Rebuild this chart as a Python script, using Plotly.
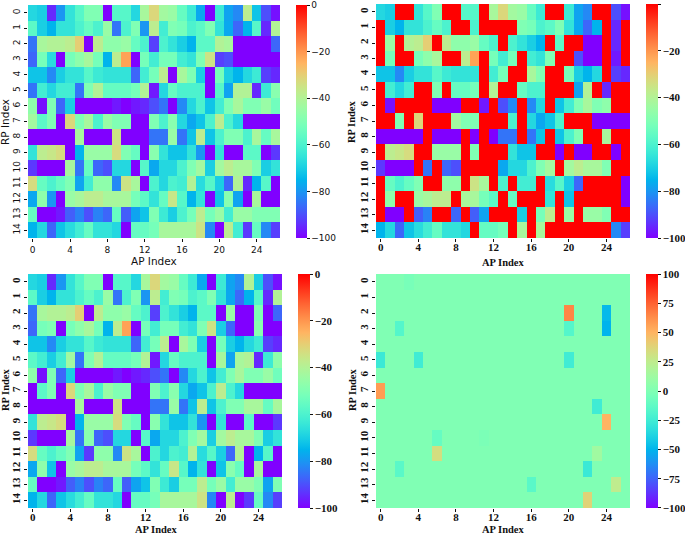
import math
import plotly.graph_objects as go

rp_labels = list(range(15))
ap_labels = list(range(27))
x_ticks = [0, 4, 8, 12, 16, 20, 24]

panel_a = [
 [-68,-70,-95,-80,-65,-58,-50,-50,-100,-58,-58,-68,-42,-32,-43,-45,-55,-63,-77,-100,-63,-78,-82,-38,-72,-90,-98],
 [-57,-70,-75,-65,-65,-60,-55,-60,-45,-85,-60,-50,-80,-38,-62,-50,-52,-60,-57,-50,-65,-77,-87,-75,-58,-95,-40],
 [-85,-42,-40,-40,-38,-30,-100,-38,-47,-47,-45,-55,-60,-92,-60,-65,-70,-75,-57,-57,-40,-42,-100,-100,-100,-100,-87],
 [-87,-52,-67,-100,-52,-47,-42,-52,-75,-38,-22,-100,-52,-62,-52,-52,-62,-65,-50,-35,-92,-90,-100,-100,-100,-100,-100],
 [-72,-72,-82,-70,-65,-65,-58,-63,-65,-65,-65,-87,-62,-52,-38,-100,-42,-50,-70,-100,-52,-70,-75,-68,-63,-92,-95],
 [-85,-62,-68,-62,-62,-85,-50,-40,-55,-55,-55,-52,-40,-97,-68,-55,-60,-60,-60,-100,-58,-78,-40,-40,-95,-63,-48],
 [-47,-98,-50,-87,-70,-100,-100,-100,-100,-97,-100,-97,-95,-90,-85,-100,-82,-68,-60,-72,-62,-50,-42,-50,-50,-45,-53],
 [-43,-57,-50,-100,-32,-50,-42,-60,-45,-50,-50,-100,-100,-50,-60,-48,-68,-77,-72,-60,-38,-60,-68,-100,-100,-100,-100],
 [-100,-100,-100,-100,-100,-42,-100,-100,-100,-35,-100,-100,-100,-85,-85,-45,-85,-72,-38,-72,-60,-50,-50,-60,-42,-55,-42],
 [-65,-38,-36,-33,-100,-75,-45,-45,-45,-33,-50,-55,-100,-48,-65,-72,-72,-65,-80,-100,-65,-100,-100,-57,-57,-100,-93],
 [-93,-100,-100,-100,-42,-85,-55,-87,-90,-68,-68,-100,-58,-77,-68,-68,-60,-50,-43,-70,-43,-38,-42,-42,-50,-70,-65],
 [-33,-55,-60,-55,-50,-78,-62,-47,-47,-82,-35,-42,-100,-60,-68,-60,-62,-40,-67,-58,-70,-87,-40,-95,-75,-58,-100],
 [-77,-47,-80,-100,-45,-42,-38,-38,-42,-42,-42,-52,-57,-65,-55,-36,-58,-75,-65,-100,-72,-48,-78,-100,-42,-100,-100],
 [-55,-100,-100,-97,-88,-83,-90,-83,-87,-55,-88,-78,-72,-50,-63,-70,-60,-52,-38,-52,-45,-62,-45,-45,-50,-50,-50],
 [-75,-68,-87,-72,-67,-62,-55,-65,-65,-68,-100,-55,-55,-52,-42,-42,-42,-42,-35,-82,-100,-38,-62,-93,-55,-82,-92],
]

panel_b = [
 [-68,-70,0,0,-65,-58,-50,0,0,-58,-58,0,-42,-32,-43,-45,-55,-63,0,0,-63,-78,-82,0,0,-90,-98],
 [0,-70,-75,-65,-65,-60,-55,-60,0,0,-60,0,0,0,0,-50,-52,-60,-57,-50,-65,-77,-87,-75,0,-95,0],
 [0,-45,0,-40,-38,-30,0,-38,-47,-47,-45,-55,-60,0,-60,-65,-70,-75,0,-57,0,0,-100,-100,0,-95,0],
 [0,-52,0,0,-52,-47,-42,0,0,-38,-22,0,-52,-62,-52,0,-62,-65,-50,0,0,-90,-100,-100,0,-97,0],
 [-72,-72,-82,-70,-65,-65,-58,-63,-65,-65,-65,0,-62,-52,0,0,-42,-50,0,0,-52,-70,-75,-68,0,-92,-95],
 [0,-62,-68,-62,0,0,-50,0,-55,-55,-52,0,-40,0,0,-55,-60,-60,0,0,0,-78,-40,0,-95,0,0],
 [0,-98,0,0,0,0,-100,-100,-100,0,0,-97,0,-90,-82,0,-82,-68,0,-72,-62,-50,-42,-50,-47,0,0],
 [0,0,-50,0,-32,0,0,0,-43,-50,-50,0,0,0,-60,0,-68,-77,-72,-60,0,0,0,-100,-100,-100,-100],
 [-100,-100,-100,-100,-100,0,-100,-100,-100,0,-100,0,-100,-85,-85,0,-85,-72,0,-72,-60,-50,0,0,-42,0,0],
 [0,-38,-36,-33,0,0,-45,-45,-45,0,-50,0,0,0,-65,-72,-72,0,0,-100,0,-100,-100,0,0,-100,0],
 [-93,-100,-100,-100,0,-85,0,-87,-90,0,0,0,0,-77,-68,-68,-60,-50,-43,0,-43,-38,-42,-42,-50,0,0],
 [0,-55,-60,-55,-50,0,0,-47,-47,0,-35,-42,0,-60,0,-62,-62,0,-67,-58,-70,-87,0,0,0,0,-100],
 [0,-47,0,0,-45,-42,-38,-38,0,-42,-42,-52,-57,0,-55,0,0,0,-65,0,-72,0,0,0,0,0,-100],
 [0,-100,-100,0,-88,-83,0,0,-87,0,-88,-78,0,0,0,-70,0,-52,-38,0,-45,0,-45,-45,-50,0,0],
 [-75,-68,-87,-72,-67,-62,-55,-65,-65,-68,0,-55,-55,-52,0,-42,0,-42,0,0,0,0,0,0,0,-82,-92],
]

panel_c = [
 [-68,-70,-95,-80,-65,-58,-50,-50,-100,-58,-58,-68,-42,-32,-43,-45,-55,-63,-77,-100,-63,-78,-82,-40,-70,-90,-98],
 [-57,-70,-75,-65,-65,-60,-55,-60,-45,-85,-60,-50,-80,-38,-62,-50,-52,-60,-57,-50,-65,-77,-87,-75,-58,-95,-40],
 [-85,-42,-40,-40,-38,-30,-100,-38,-47,-47,-45,-55,-60,-92,-60,-65,-70,-75,-57,-57,-100,-45,-100,-100,-50,-100,-87],
 [-87,-52,-50,-100,-52,-47,-42,-52,-75,-38,-22,-100,-52,-62,-52,-52,-62,-65,-50,-35,-70,-87,-100,-100,-48,-100,-100],
 [-72,-72,-82,-70,-65,-65,-58,-63,-65,-65,-65,-87,-62,-52,-38,-100,-42,-50,-70,-100,-52,-70,-75,-68,-63,-92,-95],
 [-57,-62,-70,-62,-43,-85,-50,-40,-55,-55,-55,-52,-40,-97,-68,-55,-60,-60,-60,-100,-42,-78,-42,-40,-95,-63,-47],
 [-47,-98,-50,-87,-70,-100,-100,-100,-100,-97,-100,-97,-95,-90,-85,-100,-82,-68,-60,-72,-62,-50,-42,-50,-50,-45,-53],
 [-100,-57,-50,-100,-32,-50,-42,-60,-45,-50,-50,-100,-100,-50,-60,-48,-68,-77,-72,-60,-38,-60,-68,-100,-100,-100,-100],
 [-100,-100,-100,-100,-100,-42,-100,-100,-100,-35,-100,-100,-100,-85,-85,-45,-85,-72,-38,-72,-60,-50,-50,-42,-42,-55,-42],
 [-65,-38,-36,-33,-100,-75,-45,-45,-45,-33,-50,-55,-100,-48,-65,-72,-72,-65,-80,-100,-65,-100,-100,-57,-100,-100,-93],
 [-93,-100,-100,-100,-42,-85,-48,-87,-90,-68,-68,-100,-58,-77,-68,-68,-60,-50,-43,-70,-43,-38,-42,-42,-50,-70,-65],
 [-33,-55,-60,-55,-50,-78,-93,-47,-47,-82,-35,-42,-100,-60,-68,-60,-62,-40,-67,-58,-70,-87,-40,-100,-75,-58,-100],
 [-77,-47,-72,-100,-45,-42,-38,-38,-42,-42,-42,-52,-57,-65,-55,-36,-58,-75,-65,-100,-72,-48,-55,-100,-42,-100,-100],
 [-55,-100,-100,-97,-88,-83,-90,-83,-87,-55,-88,-78,-72,-50,-63,-70,-52,-52,-38,-52,-45,-62,-45,-45,-50,-78,-50],
 [-75,-68,-87,-72,-67,-62,-55,-65,-65,-68,-100,-55,-55,-52,-42,-42,-42,-42,-35,-82,-100,-38,-100,-93,-55,-82,-92],
]

panel_d = [
 [0,0,0,-3,0,0,0,0,0,0,0,0,0,0,0,0,0,0,0,0,0,0,0,0,0,0,0],
 [0,0,0,0,0,0,0,0,0,0,0,0,0,0,0,0,0,0,0,0,0,0,0,0,0,0,0],
 [0,0,0,0,0,0,0,0,0,0,0,0,0,0,0,0,0,0,0,0,65,0,0,0,-48,0,0],
 [0,0,-17,0,0,0,0,0,0,0,0,0,0,0,0,0,0,0,0,0,-17,0,0,0,-50,0,0],
 [0,0,0,0,0,0,0,0,0,0,0,0,0,0,0,0,0,0,0,0,0,0,0,0,0,0,0],
 [-27,0,0,0,-25,0,0,0,0,0,0,0,0,0,0,0,0,0,0,0,-25,0,0,0,0,0,0],
 [0,0,0,0,0,0,0,0,0,0,0,0,0,0,0,0,0,0,0,0,0,0,0,0,0,0,0],
 [58,0,0,0,0,0,0,0,0,0,0,0,0,0,0,0,0,0,0,0,0,0,0,0,0,0,0],
 [0,0,0,0,0,0,0,0,0,0,0,0,0,0,0,0,0,0,0,0,0,0,0,-25,0,0,0],
 [0,0,0,0,0,0,0,0,0,0,0,0,0,0,0,0,0,0,0,0,0,0,0,0,50,0,0],
 [0,0,0,0,0,0,-10,0,0,0,0,-2,0,0,0,0,0,0,0,0,0,0,0,0,0,0,0],
 [0,0,0,0,0,0,33,0,0,0,0,0,0,0,0,0,0,0,0,0,0,0,0,13,0,0,0],
 [0,0,-15,0,0,0,0,0,0,0,0,0,0,0,0,0,0,0,0,0,0,0,-27,0,0,0,0],
 [0,0,0,0,0,0,0,0,0,0,0,0,0,0,0,0,-15,0,0,0,0,0,0,0,0,25,0],
 [0,0,0,0,0,0,0,0,0,0,0,0,0,0,0,0,0,0,0,0,0,0,38,0,0,0,0],
]

cbar_ticks = [-0.01, -20, -40, -60, -80, -100]
cbar_text = ["0", "−20", "−40", "−60", "−80", "−100"]
diff_ticks = [99.99, 75, 50, 25, 0, -25, -50, -75, -99.99]
diff_text = ["100", "75", "50", "25", "0", "−25", "−50", "−75", "−100"]
x_title = "AP Index"
y_title = "RP Index"

W, H = 685, 535

def rainbow():
    stops = []
    for i in range(65):
        t = i / 64
        r = min(1, abs(2 * t - 0.5))
        g = math.sin(math.pi * t)
        b = math.cos(math.pi * t / 2)
        stops.append([t, f"rgb({r*255:.0f},{g*255:.0f},{b*255:.0f})"])
    return stops

SCALE = rainbow()
SANS = dict(family="DejaVu Sans", size=9, color="#111")
SERIF = dict(family="Liberation Serif", size=11, color="#111", weight="bold")

panels = [
    dict(z=panel_a, box=(28, 280, 5, 238), cb=(296, 238, 5), zr=(-100, 0), font=SANS,
         cbt=cbar_ticks, cbl=cbar_text, xs=10.5, thick=11, off=0, xt=(154, 261), yt=(5, 122)),
    dict(z=panel_b, box=(376, 630, 4, 238), cb=(646, 238, 4), zr=(-100, 0), font=SERIF,
         cbt=cbar_ticks, cbl=cbar_text, xs=10.5, thick=12, off=-4, xt=(503, 262), yt=(352, 122)),
    dict(z=panel_c, box=(28, 282, 274, 508), cb=(298, 508, 274), zr=(-100, 0), font=SERIF,
         cbt=cbar_ticks, cbl=cbar_text, xs=10.5, thick=12, off=-4, xt=(156, 529), yt=(5, 390)),
    dict(z=panel_d, box=(376, 630, 274, 508), cb=(646, 508, 274), zr=(-100, 100), font=SERIF,
         cbt=diff_ticks, cbl=diff_text, xs=10.5, thick=12, off=-4, xt=(503, 529), yt=(352, 390)),
]

fig = go.Figure()
notes = []
for i, p in enumerate(panels, start=1):
    x0, x1, y0, y1 = p["box"]
    cx, cb_bottom, cb_top = p["cb"]
    suffix = "" if i == 1 else str(i)
    f = p["font"]
    fig.add_trace(go.Heatmap(
        z=p["z"], x=ap_labels, y=rp_labels,
        xaxis=f"x{suffix}", yaxis=f"y{suffix}",
        colorscale=SCALE, zmin=p["zr"][0], zmax=p["zr"][1],
        xgap=0, ygap=0,
        colorbar=dict(
            x=cx / W, xanchor="left", xref="paper",
            y=1 - cb_bottom / H, yanchor="bottom", yref="paper",
            len=(cb_bottom - cb_top) / H, lenmode="fraction",
            thickness=p["thick"], thicknessmode="pixels",
            outlinewidth=0, xpad=0, ypad=0,
            tickmode="array", tickvals=p["cbt"], ticktext=p["cbl"],
            ticks="outside", ticklen=3, tickwidth=1, tickcolor="#111",
            tickfont=f,
        ),
    ))
    fig.update_layout({
        f"xaxis{suffix}": dict(
            domain=[x0 / W, x1 / W], anchor=f"y{suffix}",
            range=[-0.5, 26.5], tickmode="array", tickvals=x_ticks,
            ticks="outside", ticklen=3, tickwidth=1, tickcolor="#111",
            ticklabelstandoff=p["off"],
            tickfont=f, showgrid=False, zeroline=False, showline=False,
        ),
        f"yaxis{suffix}": dict(
            domain=[1 - y1 / H, 1 - y0 / H], anchor=f"x{suffix}",
            range=[14.5, -0.5], tickmode="array", tickvals=rp_labels,
            ticks="outside", ticklen=3, tickwidth=1, tickcolor="#111",
            tickangle=-90, tickfont=f, showgrid=False, zeroline=False, showline=False,
        ),
    })
    title_font = {**f, "size": p["xs"]}
    notes.append(dict(text=x_title, x=p["xt"][0] / W, y=1 - p["xt"][1] / H, xref="paper", yref="paper",
                      xanchor="center", yanchor="middle", showarrow=False, font=title_font, borderpad=0))
    notes.append(dict(text=y_title, x=p["yt"][0] / W, y=1 - p["yt"][1] / H, xref="paper", yref="paper",
                      xanchor="center", yanchor="middle", showarrow=False, textangle=-90, font=title_font, borderpad=0))

fig.update_layout(
    width=W, height=H, margin=dict(l=0, r=0, t=0, b=0, autoexpand=False),
    paper_bgcolor="white", plot_bgcolor="white", showlegend=False, annotations=notes,
)
fig.write_html("out.html", config={"displayModeBar": False},
               post_script="document.body.style.margin='0';document.documentElement.style.overflow='hidden';")
